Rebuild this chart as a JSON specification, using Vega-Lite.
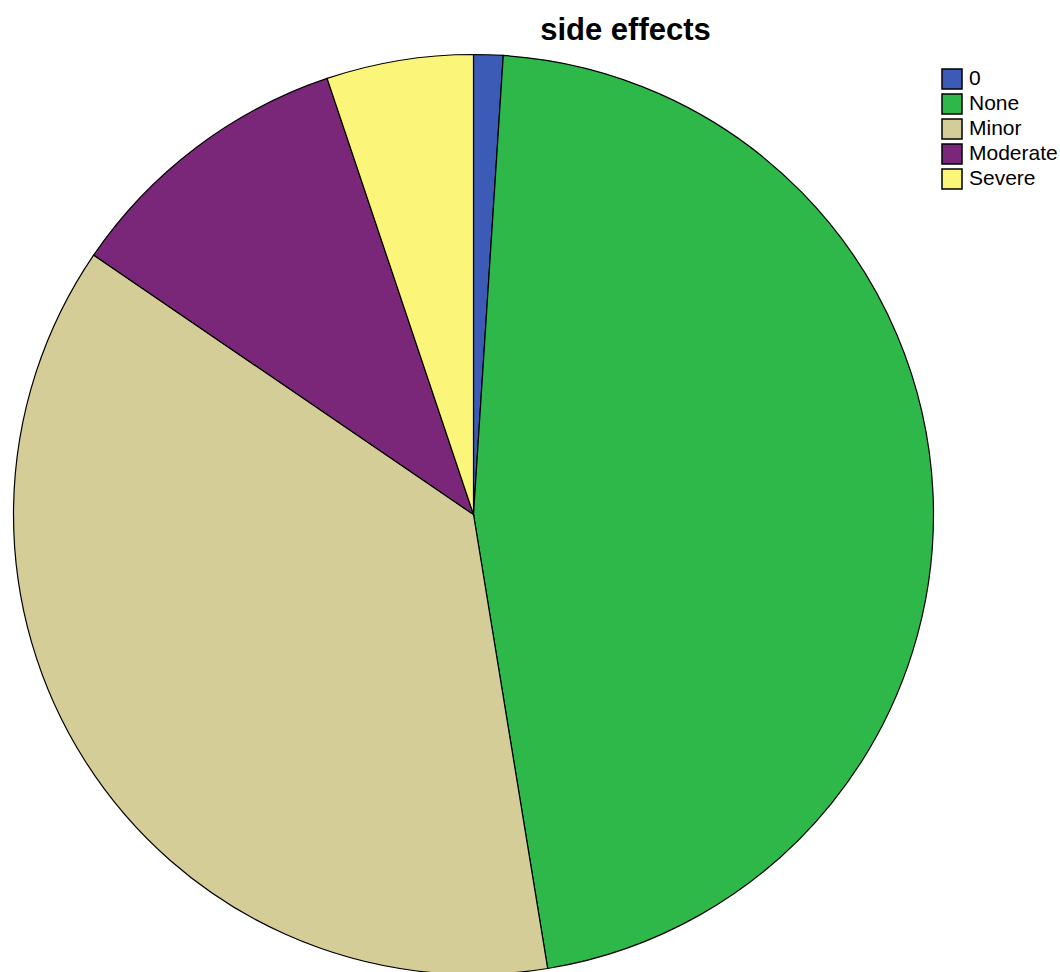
{
  "$schema": "https://vega.github.io/schema/vega-lite/v6.json",
  "autosize": {"type": "none"},
  "width": 947,
  "height": 915,
  "padding": {"left": 0, "top": 57, "right": 113, "bottom": 0},
  "background": "white",
  "title": {
    "text": "side effects",
    "font": "Liberation Sans",
    "fontSize": 31,
    "fontWeight": "bold",
    "color": "black",
    "anchor": "middle",
    "dx": 152,
    "offset": 5
  },
  "data": {
    "values": [
      {"category": "0", "count": 1, "rank": 1},
      {"category": "None", "count": 45, "rank": 2},
      {"category": "Minor", "count": 36, "rank": 3},
      {"category": "Moderate", "count": 10, "rank": 4},
      {"category": "Severe", "count": 5, "rank": 5}
    ]
  },
  "mark": {"type": "arc", "outerRadius": 460, "stroke": "black", "strokeWidth": 1.2},
  "encoding": {
    "theta": {"field": "count", "type": "quantitative", "stack": true},
    "order": {"field": "rank", "type": "quantitative"},
    "color": {
      "field": "category",
      "type": "nominal",
      "scale": {
        "domain": ["0", "None", "Minor", "Moderate", "Severe"],
        "range": ["#3c5bb7", "#2eb84a", "#d4cd98", "#7b2779", "#fbf67a"]
      },
      "legend": {
        "title": null,
        "orient": "none",
        "legendX": 941,
        "legendY": 11,
        "symbolType": "square",
        "symbolSize": 400,
        "symbolStrokeColor": "black",
        "symbolStrokeWidth": 1.5,
        "symbolOpacity": 1,
        "labelFont": "Liberation Sans",
        "labelFontSize": 21,
        "labelColor": "black",
        "rowPadding": -1,
        "labelOffset": 6,
        "labelLimit": 200
      }
    }
  }
}
